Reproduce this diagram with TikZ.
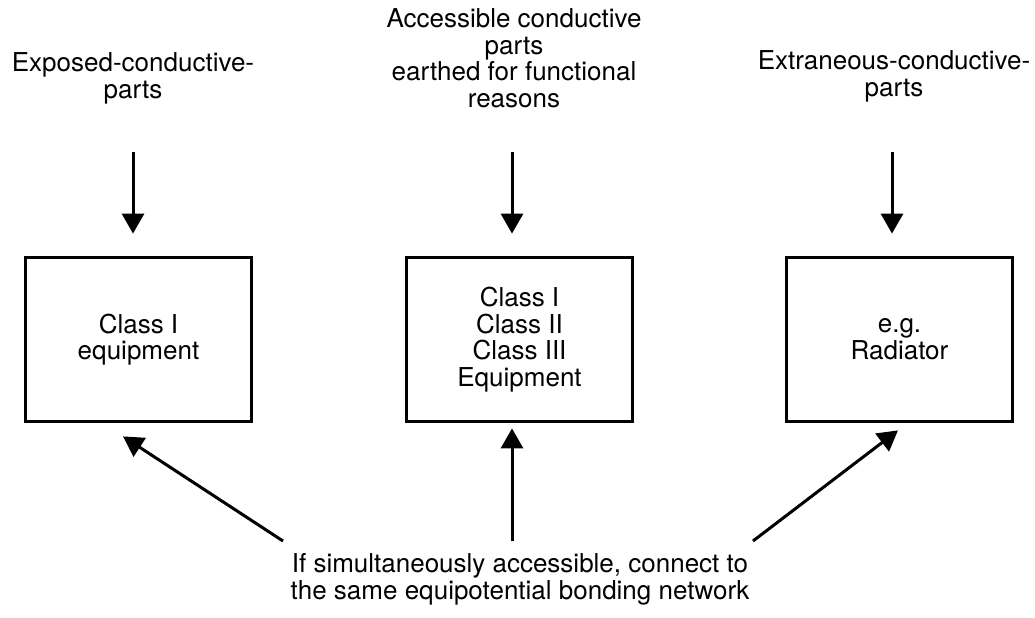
\documentclass[tikz,border=0pt]{standalone}
\usepackage{fontspec}
\setmainfont{TeX Gyre Heros}
\usetikzlibrary{arrows.meta,positioning}

\begin{document}
\begin{tikzpicture}[x=0.5pt,y=-0.5pt,>={Triangle[length=10pt,width=11pt]},
  every node/.style={font=\fontsize{13pt}{13.35pt}\selectfont,align=center,inner sep=0pt},
  kit/.style={draw,line width=1.4pt,minimum width=113pt,minimum height=82pt},
  feed/.style={->,line width=1.5pt}]
  \useasboundingbox (0,0) rectangle (1035,617);
  \node[kit] (eq) at (138.5,339.5) {Class I\\equipment};
  \node[kit] (mixed) at (519.5,339.5) {Class I\\Class II\\Class III\\Equipment};
  \node[kit] (rad) at (899.5,339.5) {e.g.\\Radiator};
  \node[anchor=north] (exposed) at (133,52) {Exposed-conductive-\\parts};
  \node[anchor=north] (access) at (514,8) {Accessible conductive\\parts\\earthed for functional\\reasons};
  \node[anchor=north] (extra) at (894,50) {Extraneous-conductive-\\parts};
  \node[anchor=north] (bond) at (520,553) {If simultaneously accessible, connect to\\the same equipotential bonding network};
  \coordinate (exposed-tail) at (133,152);
  \coordinate (access-tail) at (512,152);
  \coordinate (extra-tail) at (892,152);
  \coordinate (bond-left) at (283,541);
  \coordinate (bond-mid) at (512,541);
  \coordinate (bond-right) at (753,541);
  \draw[feed,shorten >=11.25pt] (exposed-tail) -- (exposed-tail |- eq.north);
  \draw[feed,shorten >=11.25pt] (access-tail) -- (access-tail |- mixed.north);
  \draw[feed,shorten >=11.25pt] (extra-tail) -- (extra-tail |- rad.north);
  \draw[feed] (bond-left) -- ([shift={(-15.5,13.5)}]eq.south);
  \draw[feed] (bond-mid) -- ([shift={(-7.5,5.5)}]mixed.south);
  \draw[feed] (bond-right) -- ([shift={(-1.5,7.5)}]rad.south);
\end{tikzpicture}
\end{document}
